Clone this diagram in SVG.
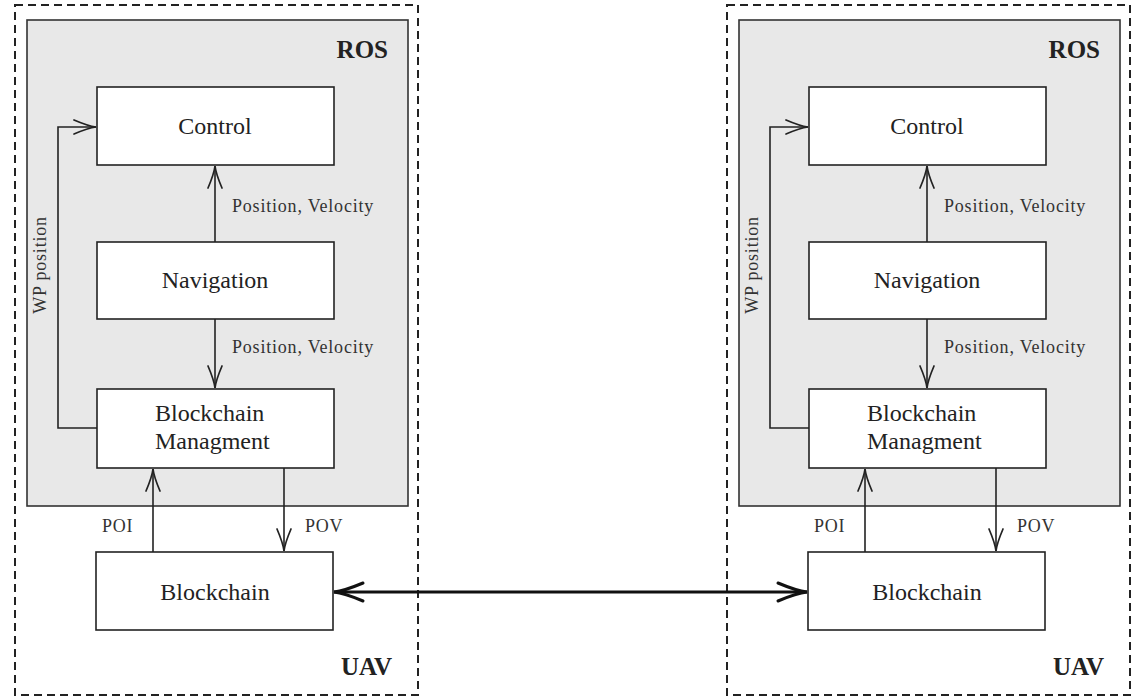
<svg xmlns="http://www.w3.org/2000/svg" width="1134" height="698" viewBox="0 0 1134 698">
  <style>
    .uav { fill: none; stroke: #222; stroke-width: 2; stroke-dasharray: 8 5; }
    .ros { fill: #e8e8e8; stroke: #333; stroke-width: 1.6; }
    .box { fill: #fff; stroke: #222; stroke-width: 1.6; }
    .lbl { font-family: "Liberation Serif", serif; font-size: 24px; fill: #222; }
    .ctr { text-anchor: middle; }
    .title { font-family: "Liberation Serif", serif; font-size: 25px; font-weight: bold; fill: #222; }
    .small { font-family: "Liberation Serif", serif; font-size: 18px; letter-spacing: 0.8px; fill: #333; }
    .edge { fill: none; stroke: #222; stroke-width: 1.6; marker-end: url(#arr); }
    .link { fill: none; stroke: #111; stroke-width: 3; marker-start: url(#big); marker-end: url(#big); }
  </style>
  <defs>
    <marker id="arr" markerUnits="userSpaceOnUse" viewBox="-24 -9 26 18" refX="0" refY="0" markerWidth="26" markerHeight="18" orient="auto-start-reverse">
      <path d="M -22 -7 Q -8 -1 0 0 Q -8 1 -22 7" fill="none" stroke="#222" stroke-width="1.7" stroke-linecap="round"/>
    </marker>
    <marker id="big" markerUnits="userSpaceOnUse" viewBox="-32 -12 34 24" refX="0" refY="0" markerWidth="34" markerHeight="24" orient="auto-start-reverse">
      <path d="M -29 -9 Q -10 -1 0 0 Q -10 1 -29 9" fill="none" stroke="#111" stroke-width="3" stroke-linecap="round"/>
    </marker>
  </defs>

  <!-- left vehicle -->
  <g id="uav-left">
    <rect class="uav" x="15" y="5" width="403" height="690"/>
    <text class="title" x="392" y="675" text-anchor="end">UAV</text>
  </g>
  <g id="ros-left">
    <rect class="ros" x="27" y="20" width="381" height="486"/>
    <text class="title" x="388" y="58" text-anchor="end">ROS</text>
  </g>
  <g id="control-left">
    <rect class="box" x="97" y="87" width="237" height="78"/>
    <text class="lbl ctr" x="215" y="134">Control</text>
  </g>
  <g id="navigation-left">
    <rect class="box" x="97" y="242" width="237" height="77"/>
    <text class="lbl ctr" x="215" y="288">Navigation</text>
  </g>
  <g id="bcm-left">
    <rect class="box" x="97" y="389" width="237" height="79"/>
    <text class="lbl" x="155" y="421">Blockchain</text>
    <text class="lbl" x="155" y="449">Managment</text>
  </g>
  <g id="blockchain-left">
    <rect class="box" x="96" y="552" width="237" height="78"/>
    <text class="lbl ctr" x="215" y="600">Blockchain</text>
  </g>

  <!-- right vehicle -->
  <g id="uav-right">
    <rect class="uav" x="727" y="5" width="403" height="690"/>
    <text class="title" x="1104" y="675" text-anchor="end">UAV</text>
  </g>
  <g id="ros-right">
    <rect class="ros" x="739" y="20" width="381" height="486"/>
    <text class="title" x="1100" y="58" text-anchor="end">ROS</text>
  </g>
  <g id="control-right">
    <rect class="box" x="809" y="87" width="237" height="78"/>
    <text class="lbl ctr" x="927" y="134">Control</text>
  </g>
  <g id="navigation-right">
    <rect class="box" x="809" y="242" width="237" height="77"/>
    <text class="lbl ctr" x="927" y="288">Navigation</text>
  </g>
  <g id="bcm-right">
    <rect class="box" x="809" y="389" width="237" height="79"/>
    <text class="lbl" x="867" y="421">Blockchain</text>
    <text class="lbl" x="867" y="449">Managment</text>
  </g>
  <g id="blockchain-right">
    <rect class="box" x="808" y="552" width="237" height="78"/>
    <text class="lbl ctr" x="927" y="600">Blockchain</text>
  </g>

  <!-- connectors -->
  <g id="connectors">
    <!-- left -->
    <path class="edge" d="M 215 242 L 215 166"/>
    <path class="edge" d="M 215 319 L 215 388"/>
    <path class="edge" d="M 97 428 L 58 428 L 58 127 L 96 127"/>
    <path class="edge" d="M 153 552 L 153 469"/>
    <path class="edge" d="M 284 468 L 284 551"/>
    <text class="small" x="232" y="212">Position, Velocity</text>
    <text class="small" x="232" y="353">Position, Velocity</text>
    <text class="small" x="102" y="532">POI</text>
    <text class="small" x="305" y="532">POV</text>
    <text class="small" transform="translate(46 265) rotate(-90)" text-anchor="middle">WP position</text>
    <!-- right -->
    <path class="edge" d="M 927 242 L 927 166"/>
    <path class="edge" d="M 927 319 L 927 388"/>
    <path class="edge" d="M 809 428 L 770 428 L 770 127 L 808 127"/>
    <path class="edge" d="M 865 552 L 865 469"/>
    <path class="edge" d="M 996 468 L 996 551"/>
    <text class="small" x="944" y="212">Position, Velocity</text>
    <text class="small" x="944" y="353">Position, Velocity</text>
    <text class="small" x="814" y="532">POI</text>
    <text class="small" x="1017" y="532">POV</text>
    <text class="small" transform="translate(758 265) rotate(-90)" text-anchor="middle">WP position</text>
    <!-- link between the two chains -->
    <path class="link" d="M 334 592 L 807 592"/>
  </g>
</svg>
